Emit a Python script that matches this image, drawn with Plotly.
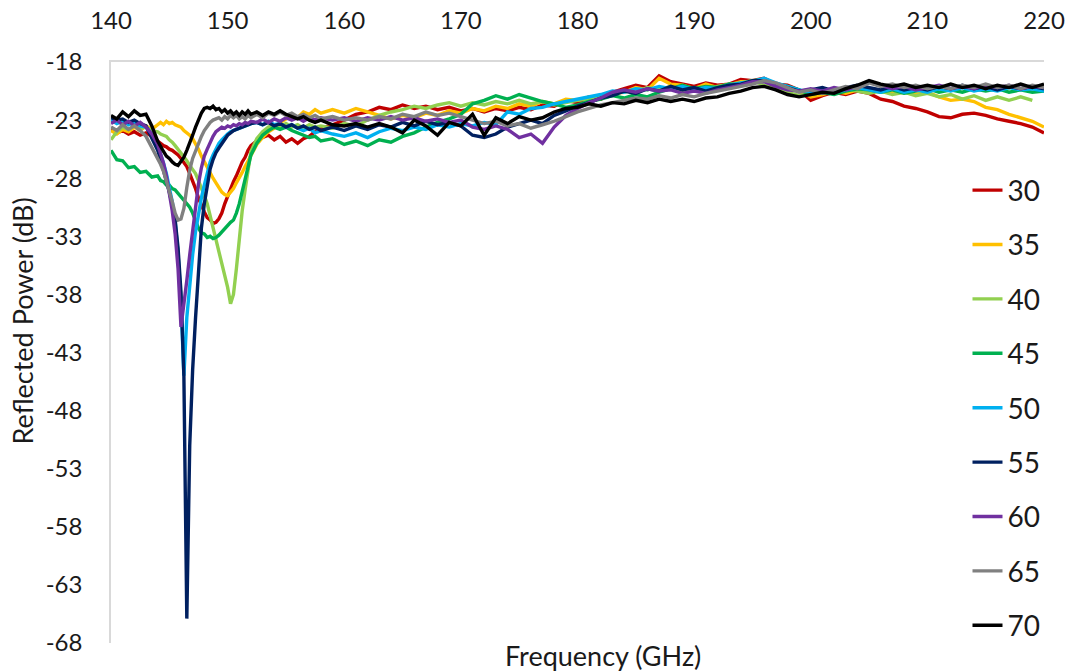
import plotly.graph_objects as go

# Frequency grid (GHz): finer sampling around the resonance dips
freq = ([140, 140.5, 141, 141.5, 142, 142.5, 143, 143.5, 144]
        + [144.25, 144.5, 144.75, 145, 145.25, 145.5, 145.75, 146, 146.25, 146.5, 146.75,
           147, 147.25, 147.5, 147.75, 148, 148.25, 148.5, 148.75, 149, 149.25, 149.5,
           149.75, 150, 150.25, 150.5, 150.75, 151, 151.25, 151.5, 151.75, 152]
        + [152.5, 153, 153.5, 154, 154.5, 155, 155.5, 156, 156.5, 157, 157.5, 158]
        + list(range(159, 221)))

p30 = ([-23.8, -24.1, -23.9, -24.2, -24.0, -24.3, -24.1, -24.4, -24.8]
       + [-25.0, -25.2, -25.3, -25.5, -25.6, -25.8, -26.0, -26.3, -26.6, -27.0, -27.6,
          -28.2, -28.9, -29.7, -30.4, -30.9, -31.4, -31.6, -31.9, -31.8, -31.5, -31.0,
          -30.2, -29.5, -28.9, -28.3, -27.8, -27.2, -26.6, -26.2, -25.6, -25.2]
       + [-24.8, -24.5, -24.3, -24.7, -24.4, -24.9, -24.6, -25.0, -24.6, -24.4, -24.0, -23.7]
       + [-23.4, -23.0, -22.5, -22.3, -21.9, -22.1, -21.7, -22.0, -21.8, -22.1,
          -21.9, -22.2, -22.0, -22.3, -22.0, -22.2, -21.9, -22.1, -21.7, -21.8,
          -21.3, -21.5, -21.0, -21.2, -20.6, -20.3, -20.0, -20.2, -19.2, -19.7,
          -19.9, -20.1, -19.8, -20.0, -19.9, -19.5, -19.6, -19.4, -19.9, -20.0,
          -20.4, -21.3, -20.9, -20.6, -20.8, -20.5, -20.7, -21.2, -21.4, -21.8,
          -22.0, -22.3, -22.7, -22.8, -22.5, -22.4, -22.6, -22.9, -23.1, -23.3,
          -23.6, -24.1])

p35 = ([-23.9, -24.2, -23.8, -24.0, -23.6, -23.9, -23.5, -23.8, -23.4]
       + [-23.2, -23.4, -23.1, -23.3, -23.2, -23.4, -23.5, -23.6, -23.9, -24.1, -24.3,
          -24.6, -25.0, -25.5, -26.1, -26.6, -27.0, -27.5, -28.0, -28.4, -28.8, -29.2,
          -29.4, -29.5, -29.2, -28.9, -28.4, -28.0, -27.5, -27.0, -26.5, -26.0]
       + [-25.1, -24.5, -24.0, -23.7, -23.2, -22.9, -22.6, -22.8, -22.3, -22.5, -22.1, -22.4]
       + [-22.1, -22.4, -22.0, -22.3, -22.6, -22.9, -22.6, -22.8, -22.4, -22.6,
          -22.2, -22.4, -22.0, -22.2, -21.8, -22.0, -21.6, -21.8, -21.4, -21.6,
          -21.2, -21.3, -21.0, -21.1, -20.7, -20.6, -20.2, -20.4, -19.4, -19.9,
          -20.0, -20.3, -19.9, -20.2, -20.0, -19.7, -19.7, -19.5, -20.0, -20.2,
          -20.5, -21.0, -20.8, -20.5, -20.7, -20.4, -20.6, -20.4, -20.7, -20.5,
          -20.8, -20.6, -21.0, -21.3, -21.2, -21.4, -21.9, -22.1, -22.5, -22.8,
          -23.1, -23.6])

p40 = ([-24.7, -24.0, -23.6, -23.8, -23.5, -23.7, -23.6, -23.9, -24.0]
       + [-24.2, -24.3, -24.4, -24.7, -24.9, -25.2, -25.5, -25.8, -26.2, -26.5, -26.9,
          -27.2, -27.6, -28.2, -28.8, -29.5, -30.2, -31.2, -32.2, -33.2, -34.3, -35.4,
          -36.5, -37.4, -38.8, -38.0, -35.8, -33.0, -30.8, -29.0, -27.5]
       + [-25.7, -24.6, -24.0, -23.6, -23.4, -23.6, -23.3, -23.6, -23.4, -23.7, -23.4, -23.6]
       + [-23.5, -23.7, -23.3, -23.5, -23.0, -22.6, -22.3, -22.1, -21.8, -22.0,
          -21.7, -21.5, -21.8, -21.5, -21.7, -21.4, -21.6, -21.3, -21.6, -21.4,
          -21.7, -21.5, -21.3, -21.2, -20.9, -20.7, -20.5, -20.6, -20.2, -20.4,
          -20.1, -20.5, -20.2, -20.4, -20.1, -19.9, -19.8, -19.6, -20.0, -20.3,
          -20.6, -20.9, -20.7, -20.5, -20.6, -20.3, -20.5, -20.7, -20.5, -20.8,
          -20.6, -20.9, -20.7, -21.0, -20.8, -21.2, -20.9, -21.3, -21.0, -21.3,
          -21.0, -21.3])

p45 = ([-25.6, -26.4, -26.5, -27.1, -27.0, -27.5, -27.4, -27.9, -27.8]
       + [-28.2, -28.3, -28.6, -28.6, -28.9, -29.0, -29.3, -29.7, -30.0, -30.2, -30.5,
          -31.0, -31.6, -32.3, -32.7, -32.8, -33.1, -33.0, -33.2, -33.1, -32.9, -32.6,
          -32.3, -32.0, -31.8, -31.6, -31.0, -30.2, -29.2, -28.1, -27.0, -26.0]
       + [-25.0, -24.3, -23.9, -23.6, -23.8, -23.6, -23.9, -24.1, -24.3, -24.5, -24.4, -24.8]
       + [-24.6, -25.1, -24.8, -25.2, -24.7, -24.9, -24.4, -24.1, -23.6, -23.2,
          -22.9, -22.5, -21.6, -21.3, -20.9, -21.2, -20.8, -21.1, -21.4, -21.6,
          -21.9, -21.7, -21.4, -21.2, -20.9, -21.1, -20.8, -21.0, -20.6, -20.3,
          -20.0, -20.3, -20.1, -20.2, -19.9, -20.0, -19.6, -19.5, -19.9, -20.1,
          -20.4, -20.8, -20.6, -20.8, -20.5, -20.3, -20.4, -20.6, -20.4, -20.7,
          -20.5, -20.3, -20.6, -20.4, -20.6, -20.3, -20.5, -20.3, -20.6, -20.4,
          -20.6, -20.5])

p50 = ([-23.0, -23.3, -23.1, -23.4, -23.2, -23.5, -23.6, -24.2, -25.2]
       + [-25.9, -26.7, -27.6, -28.7, -30.0, -31.7, -34.5, -38.5, -45.0, -40.0, -37.0,
          -34.6, -32.6, -31.0, -29.7, -28.6, -27.5, -26.6, -26.0, -25.5, -25.0, -24.7,
          -24.4, -24.2, -24.0, -23.9, -23.8, -23.7, -23.6, -23.5, -23.4, -23.3]
       + [-23.2, -23.4, -23.1, -23.4, -23.3, -23.6, -23.4, -23.7, -23.9, -23.7, -24.1, -23.9]
       + [-24.2, -24.4, -24.1, -24.5, -24.0, -23.7, -23.9, -23.6, -23.8, -23.4,
          -23.6, -23.3, -23.5, -23.2, -23.4, -22.3, -22.5, -22.0, -21.9, -21.6,
          -21.4, -21.2, -21.0, -20.8, -20.5, -20.6, -20.3, -20.4, -20.1, -20.3,
          -20.1, -20.4, -20.2, -20.3, -20.0, -19.8, -19.7, -19.4, -19.8, -20.1,
          -20.4, -20.6, -20.4, -20.6, -20.4, -20.2, -20.4, -20.6, -20.3, -20.6,
          -20.4, -20.6, -20.3, -20.5, -20.2, -20.5, -20.3, -20.5, -20.2, -20.4,
          -20.3, -20.5])

p55 = ([-22.8, -23.0, -22.9, -23.2, -23.0, -23.3, -23.5, -24.5, -25.6]
       + [-26.4, -27.3, -28.2, -29.2, -30.3, -31.6, -34.0, -37.8, -45.0, -65.9, -51.0,
          -44.5, -40.0, -35.8, -32.3, -30.2, -28.5, -27.2, -26.4, -25.8, -25.4, -25.0,
          -24.6, -24.3, -24.1, -23.9, -23.8, -23.7, -23.6, -23.5, -23.4, -23.3]
       + [-23.2, -23.4, -23.2, -23.5, -23.3, -23.6, -23.4, -23.7, -23.5, -23.8, -23.6, -23.9]
       + [-23.6, -23.9, -23.5, -23.8, -23.4, -23.6, -23.2, -23.5, -23.1, -23.4,
          -23.2, -23.5, -24.3, -24.5, -24.2, -23.6, -23.3, -23.0, -23.3, -22.6,
          -22.2, -21.8, -21.5, -21.1, -20.9, -20.5, -20.7, -20.3, -20.5, -20.1,
          -20.4, -20.2, -20.5, -20.2, -20.0, -19.9, -19.6, -19.6, -19.9, -20.2,
          -20.5, -20.4, -20.2, -20.5, -20.2, -20.0, -20.2, -20.4, -20.1, -20.4,
          -20.2, -20.4, -20.1, -20.3, -20.0, -20.3, -20.1, -20.4, -20.1, -20.3,
          -20.1, -20.3])

p60 = ([-23.3, -23.0, -23.4, -23.1, -23.5, -23.2, -23.6, -24.2, -25.1]
       + [-25.8, -26.7, -27.8, -29.2, -30.8, -32.8, -35.8, -40.8, -39.0, -36.8, -34.6,
          -32.5, -30.3, -28.5, -27.1, -26.1, -25.5, -24.9, -24.4, -24.0, -23.8, -23.6,
          -23.7, -23.5, -23.6, -23.4, -23.5, -23.3, -23.4, -23.2, -23.3, -23.1]
       + [-23.2, -22.9, -23.2, -22.9, -23.1, -22.8, -23.0, -22.8, -23.1, -22.8, -23.0, -22.8]
       + [-23.0, -22.8, -23.1, -22.8, -23.0, -22.7, -23.0, -22.8, -23.1, -22.9,
          -23.2, -23.0, -23.6, -23.8, -23.5, -23.8, -24.5, -24.2, -25.0, -23.6,
          -22.6, -22.0, -21.5, -21.1, -20.6, -20.4, -20.6, -20.3, -20.5, -20.4,
          -20.7, -20.5, -20.7, -20.4, -20.2, -20.0, -19.7, -19.7, -20.1, -20.4,
          -20.5, -20.3, -20.5, -20.2, -20.4, -20.1, -19.7, -20.0, -20.3, -20.1,
          -20.4, -20.2, -20.0, -20.3, -20.1, -20.3, -20.0, -20.2, -20.0, -20.3,
          -20.1, -20.2])

p65 = ([-23.6, -23.9, -23.4, -23.8, -23.5, -23.9, -24.4, -25.3, -26.2]
       + [-26.8, -27.4, -28.2, -29.0, -30.0, -31.0, -31.6, -31.5, -30.6, -28.8, -27.3,
          -26.3, -25.6, -25.0, -24.4, -23.9, -23.5, -23.2, -23.0, -22.9, -22.8, -23.0,
          -22.7, -22.9, -22.6, -22.8, -22.6, -22.9, -22.7, -22.9, -22.6, -22.8]
       + [-22.5, -22.8, -22.4, -22.6, -22.3, -22.6, -22.4, -22.7, -22.5, -22.8, -22.6, -22.9]
       + [-22.7, -23.0, -22.8, -23.0, -22.7, -22.9, -22.5, -22.7, -22.3, -22.6,
          -22.4, -22.7, -23.0, -23.3, -23.1, -23.5, -23.3, -23.7, -23.4, -23.1,
          -22.7, -22.3, -22.0, -21.7, -21.5, -21.3, -21.1, -21.2, -20.9, -21.1,
          -20.8, -21.0, -20.7, -20.5, -20.3, -20.1, -19.9, -19.6, -19.8, -20.2,
          -20.6, -20.4, -20.7, -20.4, -20.1, -20.3, -19.8, -20.1, -19.9, -20.2,
          -20.0, -20.3, -20.1, -20.3, -20.0, -20.2, -19.9, -20.2, -20.0, -20.3,
          -20.0, -20.2])

p70 = ([-22.6, -22.9, -22.3, -22.7, -22.2, -22.6, -22.5, -23.5, -24.8]
       + [-25.3, -25.7, -26.1, -26.3, -26.6, -26.8, -26.9, -26.6, -26.2, -25.6, -25.0,
          -24.3, -23.6, -22.9, -22.4, -22.0, -21.9, -22.0, -21.8, -22.1, -22.0, -22.3,
          -22.1, -22.4, -22.2, -22.5, -22.3, -22.6, -22.3, -22.5, -22.2, -22.5]
       + [-22.3, -22.6, -22.3, -22.5, -22.2, -22.5, -22.7, -22.9, -22.7, -23.0, -23.2, -23.0]
       + [-23.4, -23.5, -23.3, -23.6, -23.3, -23.6, -24.1, -23.0, -23.5, -24.3,
          -23.2, -23.5, -22.5, -24.3, -22.8, -23.3, -22.7, -23.0, -22.8, -22.3,
          -22.0, -21.9, -21.6, -21.8, -21.5, -21.6, -21.3, -21.5, -21.2, -21.4,
          -21.2, -21.4, -21.1, -21.0, -20.7, -20.5, -20.2, -20.1, -20.4, -20.8,
          -21.0, -20.8, -20.6, -20.7, -20.3, -20.0, -19.6, -19.9, -20.1, -19.9,
          -20.2, -20.0, -20.2, -19.9, -20.2, -20.0, -20.3, -20.0, -20.2, -19.9,
          -20.2, -19.9])

series_names = ["30", "35", "40", "45", "50", "55", "60", "65", "70"]
series_values = [p30, p35, p40, p45, p50, p55, p60, p65, p70]
series_colors = ["#C00000", "#FFC000", "#92D050", "#00B050", "#00B0F0",
                 "#002060", "#7030A0", "#808080", "#000000"]

x_ticks = [140, 150, 160, 170, 180, 190, 200, 210, 220]
y_ticks = [-18, -23, -28, -33, -38, -43, -48, -53, -58, -63, -68]
# plain hyphen-minus labels for the power axis
y_ticktext = [str(v) for v in y_ticks]

FONT = "Lato, 'Open Sans', sans-serif"
INK = "#1a1a1a"

fig = go.Figure()
for name, vals, col in zip(series_names, series_values, series_colors):
    fig.add_trace(go.Scatter(
        x=freq, y=vals, name=name, mode="lines",
        line=dict(color=col, width=3.4),
        legendgroup=name,
    ))

fig.update_layout(
    width=1078, height=671,
    margin=dict(l=111, r=34, t=62, b=28, autoexpand=False),
    paper_bgcolor="white", plot_bgcolor="white",
    font=dict(family=FONT, color=INK),
    showlegend=True,
    legend=dict(
        x=0.918, xanchor="left", y=0.822, yanchor="top",
        font=dict(size=28, family=FONT, color=INK),
        tracegroupgap=15, itemwidth=30, maxheight=640,
        bgcolor="rgba(0,0,0,0)",
    ),
    xaxis=dict(
        range=[140, 220], side="top", tickmode="array", tickvals=x_ticks,
        showline=True, linecolor="#d9d9d9", linewidth=1.5,
        ticks="", showgrid=False, zeroline=False, automargin=False,
        tickfont=dict(size=24, family=FONT, color=INK),
        ticklabelstandoff=22,
    ),
    yaxis=dict(
        range=[-68, -18], tickmode="array", tickvals=y_ticks, ticktext=y_ticktext,
        showline=True, linecolor="#d9d9d9", linewidth=1.5,
        ticks="", showgrid=False, zeroline=False, automargin=False,
        tickfont=dict(size=24, family=FONT, color=INK),
        ticklabelstandoff=22,
    ),
    annotations=[
        dict(text="Frequency (GHz)", xref="paper", yref="paper",
             x=0.527, y=-0.022, xanchor="center", yanchor="middle",
             showarrow=False, font=dict(size=27, family=FONT, color=INK)),
        dict(text="Reflected Power (dB)", xref="paper", yref="paper",
             x=-0.095, y=0.554, xanchor="center", yanchor="middle", textangle=-90,
             showarrow=False, font=dict(size=27, family=FONT, color=INK)),
    ],
)

fig.write_html("out.html")
